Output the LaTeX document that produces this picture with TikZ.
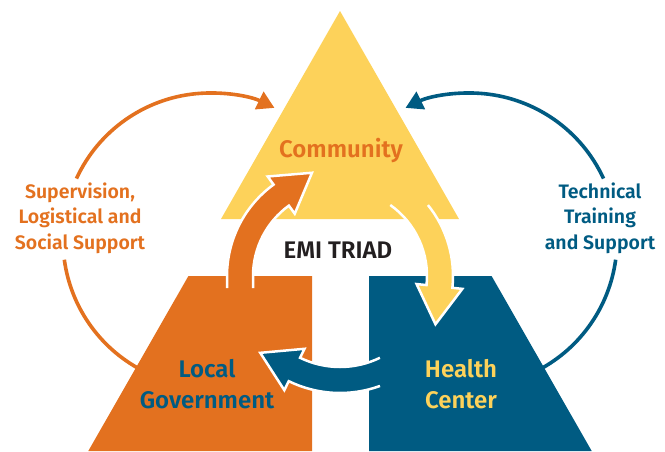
\documentclass[tikz,border=0pt]{standalone}
\usepackage{fontspec}
\setmainfont{Fira Sans}[BoldFont={Fira Sans SemiBold}]
\usetikzlibrary{arrows.meta,calc}
\definecolor{emiorange}{HTML}{E3711F}
\definecolor{emiyellow}{HTML}{FDD25A}
\definecolor{emiblue}{HTML}{005B82}
\definecolor{emidark}{HTML}{231F20}
\begin{document}
\begin{tikzpicture}[x=1pt,y=1pt,
  lbl/.style={font=\bfseries\fontsize{24}{31}\selectfont, align=center, inner sep=0pt},
  side/.style={font=\bfseries\fontsize{19.5}{25.5}\selectfont, align=center, inner sep=0pt},
  outerarc/.style={line width=3.6pt},
  arcarrow/.style={-{Triangle[length=17pt,width=19pt]}},
  rim/.style={draw=white, line width=2.5pt, line join=miter}
]
\useasboundingbox (0,0) rectangle (665,-451);
% centres
\coordinate (CL) at (210,-240);
\coordinate (CR) at (470,-240);
\coordinate (C) at (340,-276);
% outer arcs
\draw[emiorange, outerarc] ([shift={(242:147)}]CL) arc[start angle=242,end angle=187.7,radius=147];
\draw[emiorange, outerarc, arcarrow] ([shift={(155.3:147)}]CL) arc[start angle=155.3,end angle=64,radius=147];
\draw[emiblue, outerarc] ([shift={(-62:147)}]CR) arc[start angle=-62,end angle=-7.7,radius=147];
\draw[emiblue, outerarc, arcarrow] ([shift={(24.7:147)}]CR) arc[start angle=24.7,end angle=116,radius=147];
% shapes
\fill[emiyellow] (340,-11) -- (221,-219) -- (459,-219) -- cycle;
\fill[emiorange] (188.4,-276) -- (312,-276) -- (312,-451) -- (88.3,-451) -- cycle;
\fill[emiblue] (369,-276) -- (491.6,-276) -- (591.7,-451) -- (369,-451) -- cycle;
% orange arrow
\fill[emiorange] (227,-288) -- (227,-276) arc[start angle=180,end angle=126,radius=113]
  -- ([shift={(126:123)}]C) -- ($(C)+(126:100)+(36:38)$) -- ([shift={(126:77)}]C)
  -- ([shift={(126:87)}]C) arc[start angle=126,end angle=180,radius=87] -- (253,-288) -- cycle;
\draw[rim] (227,-288) -- (227,-276) arc[start angle=180,end angle=126,radius=113]
  -- ([shift={(126:123)}]C) -- ($(C)+(126:100)+(36:38)$) -- ([shift={(126:77)}]C)
  -- ([shift={(126:87)}]C) arc[start angle=126,end angle=180,radius=87] -- (253,-288);
% yellow arrow
\fill[emiyellow] ([shift={(38.9:113)}]C) arc[start angle=38.9,end angle=-6,radius=113]
  -- ([shift={(-6:123)}]C) -- ($(C)+(-6:100)+(-96:38)$) -- ([shift={(-6:77)}]C)
  -- ([shift={(-6:87)}]C) arc[start angle=-6,end angle=54.7,radius=87] -- cycle;
\draw[rim] ([shift={(38.9:113)}]C) arc[start angle=38.9,end angle=-6,radius=113]
  -- ([shift={(-6:123)}]C) -- ($(C)+(-6:100)+(-96:38)$) -- ([shift={(-6:77)}]C)
  -- ([shift={(-6:87)}]C) arc[start angle=-6,end angle=54.7,radius=87];
% blue arrow
\fill[emiblue] ([shift={(-70:117)}]C) arc[start angle=-70,end angle=-116,radius=117]
  -- ([shift={(-116:127)}]C) -- ($(C)+(-116:104)+(-206:38)$) -- ([shift={(-116:81)}]C)
  -- ([shift={(-116:91)}]C) arc[start angle=-116,end angle=-64,radius=91] -- cycle;
\draw[rim] ([shift={(-70:117)}]C) arc[start angle=-70,end angle=-116,radius=117]
  -- ([shift={(-116:127)}]C) -- ($(C)+(-116:104)+(-206:38)$) -- ([shift={(-116:81)}]C)
  -- ([shift={(-116:91)}]C) arc[start angle=-116,end angle=-64,radius=91];
% labels
\node[lbl, text=emiorange, anchor=base] (community) at (341,-157) {Community};
\node[lbl, text=emidark, anchor=base] (triad) at (338,-258) {EMI TRIAD};
\node[lbl, text=emiblue] (localgov) at (207,-384) {Local\\Government};
\node[lbl, text=emiyellow] (health) at (461,-384) {Health\\Center};
\node[side, text=emiorange] (supervision) at (80,-218) {Supervision,\\Logistical and\\Social Support};
\node[side, text=emiblue] (technical) at (600,-218) {Technical\\Training\\and Support};
\end{tikzpicture}
\end{document}
